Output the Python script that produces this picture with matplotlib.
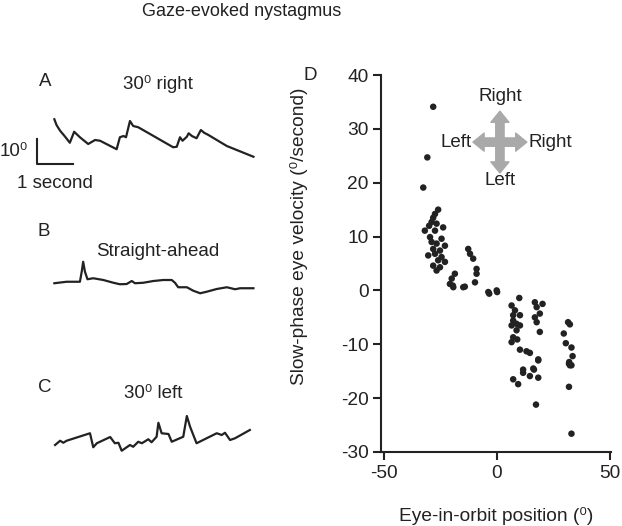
"""Gaze-evoked nystagmus: eye traces (A-C) and slow-phase velocity vs position (D)."""

import matplotlib
matplotlib.use("Agg")
import matplotlib.pyplot as plt
import numpy as np

plt.rcParams["font.family"] = ["Liberation Sans", "DejaVu Sans"]
plt.rcParams["axes.unicode_minus"] = False

W, H = 622, 526

# ── Traces (time in s from trace start, position in deg relative to start) ──

T_RIGHT = [0.01, 0.07, 0.17, 0.31, 0.44, 0.56, 0.72, 0.95, 1.14, 1.28, 1.74, 1.83,
           1.93, 2.00, 2.11, 2.20, 2.34, 3.31, 3.41, 3.50, 3.57, 3.69, 3.74, 3.83,
           3.96, 4.08, 4.17, 4.29, 4.80, 5.54]
P_RIGHT = [0, -2.3, -4.6, -7.0, -9.4, -5.0, -7.2, -9.9, -8.3, -8.6, -12.0, -7.2,
           -6.7, -7.2, -0.7, -2.7, -3.2, -11.2, -11.0, -7.2, -8.6, -7.0, -5.6, -6.7,
           -7.6, -4.3, -5.4, -6.3, -10.7, -15.0]

T_AHEAD = [0.01, 0.35, 0.72, 0.77, 0.81, 0.86, 0.93, 1.09, 1.37, 1.65, 1.83, 2.02,
           2.16, 2.25, 2.48, 2.76, 3.04, 3.27, 3.36, 3.45, 3.69, 3.87, 4.06, 4.24,
           4.52, 4.80, 5.03, 5.17, 5.54]
P_AHEAD = [0, 0.6, 0.6, 4.6, 8.6, 4.6, 1.6, 2.0, 1.3, 0.2, -0.4, -0.3,
           0.9, 0, 0.2, 0.9, 1.3, 1.3, 0.2, -1.6, -1.6, -3.0, -4.0, -3.4,
           -2.3, -1.6, -2.4, -2.0, -2.0]

T_LEFT = [0.03, 0.17, 0.26, 0.35, 1.00, 1.09, 1.19, 1.56, 1.69, 1.79, 1.88, 2.11,
          2.20, 2.34, 2.44, 2.62, 2.71, 2.85, 2.90, 2.99, 3.18, 3.27, 3.59, 3.69,
          3.78, 3.96, 4.52, 4.66, 4.75, 4.89, 5.03, 5.44]
P_LEFT = [0, 1.7, 0.9, 1.7, 4.7, -0.9, 0.7, 3.2, 0.7, 0.9, -2.3, 0,
          -0.7, 1.3, 0.7, 2.3, 1.1, 3.3, 8.9, 4.7, 4.4, 1.3, 3.3, 11.6,
          7.3, 0.7, 4.7, 4.0, 4.9, 2.0, 2.7, 6.0]

# ── Panel D: eye-in-orbit position (deg) vs slow-phase velocity (deg/s) ──

POS = [-28.2, -30.8, -32.6,
       -26.0, -27.4, -28.2, -28.9, -30.0, -26.7, -23.8, -31.9, -27.4, -29.6, -24.5,
       -28.9, -26.7, -23.0, -28.2, -25.2, -27.4, -30.4, -24.5, -26.0, -23.0, -28.2,
       -25.2, -26.7, -18.6, -20.0, -20.8, -19.3, -14.9, -12.7, -11.9, -10.5, -9.0,
       -9.0, -9.7, -3.8, -0.1, -19.5, -14.2, -3.4, 0.1,
       9.9, 6.5, 8.0, 7.2, 10.2, 7.2, 8.7, 6.5, 10.2, 8.7, 7.2, 6.5, 9.0, 10.2,
       13.1, 14.6, 18.3, 16.8, 17.6, 20.2, 19.0, 16.8, 17.6, 19.0,
       31.5, 32.3, 29.6, 30.5, 33.0, 33.5, 32.0, 32.3, 11.6, 16.1,
       11.6, 14.6, 16.4, 18.3, 18.3, 7.2, 9.4, 17.3, 31.9, 33.0, 31.9, 33.0]
VEL = [34.1, 24.7, 19.1,
       15.0, 14.2, 13.5, 12.7, 12.0, 12.4, 11.7, 11.1, 11.1, 9.9, 9.6,
       9.0, 8.7, 8.3, 7.7, 7.4, 6.8, 6.5, 6.2, 5.6, 5.3, 4.6,
       4.3, 3.7, 3.1, 2.2, 1.2, 0.6, 0.6, 7.7, 6.8, 5.9, 4.0,
       3.1, 1.5, -0.3, 0.0, 0.9, 0.7, -0.6, -0.3,
       -1.4, -2.8, -3.7, -4.6, -4.6, -5.6, -6.2, -6.5, -6.5, -7.4, -8.7, -9.6, -9.1, -11.0,
       -11.3, -11.6, -12.8, -2.2, -3.1, -2.5, -4.3, -5.0, -5.9, -7.7,
       -5.9, -6.3, -8.0, -9.8, -10.6, -12.2, -13.3, -13.9, -14.7, -14.5,
       -15.3, -15.9, -14.7, -16.2, -13.0, -16.5, -17.4, -21.2, -13.6, -13.9, -17.9, -26.6]

INK = "#222222"
ARROW_GREY = "#a9a9a9"
FS = 13.5      # panel text
FS_AX = 13.8   # axis ticks / labels


def px(x, y):
    """pixel position (from top-left) -> figure fraction"""
    return x / W, 1 - y / H


fig = plt.figure(figsize=(W / 100, H / 100), dpi=100)

fig.text(*px(242, 12), "Gaze-evoked nystagmus", ha="center", va="center",
         fontsize=13, color=INK)

# ── Left: traces, 36 px per second, 2.5 px per degree ──
tr = fig.add_axes([0, 46 / H, 290 / W, 440 / H])
tr.set_xlim(0, 290 / 36)
tr.set_ylim(0, 440 / 2.5)
tr.axis("off")

T0 = 1.5
for t, p, d0 in [(T_RIGHT, P_RIGHT, 144.3), (T_AHEAD, P_AHEAD, 78.7), (T_LEFT, P_LEFT, 14.0)]:
    tr.plot(T0 + np.array(t), d0 + np.array(p), color=INK, lw=1.6,
            solid_joinstyle="round")

# scale bar: 10 deg, 1 second
tr.plot([1.03, 1.03, 2.03], [136.4, 126.4, 126.4], color=INK, lw=1.5)

fig.text(*px(0, 151), "10\u2070", ha="left", va="center", fontsize=FS, color=INK)
fig.text(*px(17, 184), "1 second", ha="left", va="center", fontsize=FS, color=INK)

fig.text(*px(45, 82), "A", ha="center", va="center", fontsize=FS, color=INK)
fig.text(*px(158, 84), "30\u2070 right", ha="center", va="center", fontsize=FS, color=INK)
fig.text(*px(44, 232), "B", ha="center", va="center", fontsize=FS, color=INK)
fig.text(*px(158, 252), "Straight-ahead", ha="center", va="center", fontsize=FS, color=INK)
fig.text(*px(45, 388), "C", ha="center", va="center", fontsize=FS, color=INK)
fig.text(*px(153, 394), "30\u2070 left", ha="center", va="center", fontsize=FS, color=INK)

# ── Right: scatter ──
ax = fig.add_axes([381 / W, 74 / H, 230 / W, 377 / H])
ax.scatter(POS, VEL, s=22, color=INK, edgecolors="none", zorder=3)
ax.set_xlim(-51.3, 50.5)
ax.set_ylim(-30, 40)
ax.set_xticks([-50, 0, 50])
ax.set_yticks(range(-30, 41, 10))
for s in ("top", "right"):
    ax.spines[s].set_visible(False)
for s in ("left", "bottom"):
    ax.spines[s].set_linewidth(1.5)
    ax.spines[s].set_color(INK)
ax.tick_params(direction="out", length=6, width=1.5, colors=INK, labelsize=FS_AX, pad=3)
ax.set_xlabel("Eye-in-orbit position (\u2070)", fontsize=FS_AX, color=INK)
ax.set_ylabel("Slow-phase eye velocity (\u2070/second)", fontsize=FS_AX, color=INK)
ax.xaxis.set_label_coords(0.5, -0.145)
ax.yaxis.set_label_coords(-0.317, 0.573)

fig.text(*px(310, 75), "D", ha="center", va="center", fontsize=FS, color=INK)

# compass of directions
cx, cy = 0.517, 0.822
arms = [(0.117, 0), (-0.117, 0), (0, 0.082), (0, -0.082)]
for dx, dy in arms:
    ax.annotate("", xy=(cx + dx, cy + dy), xytext=(cx, cy),
                xycoords="axes fraction", textcoords="axes fraction",
                arrowprops=dict(arrowstyle="simple,head_length=0.8,head_width=1.3,tail_width=0.6",
                                color=ARROW_GREY, mutation_scale=10, shrinkA=0, shrinkB=0))
ax.text(cx, cy + 0.122, "Right", transform=ax.transAxes, ha="center", va="center",
        fontsize=FS, color=INK)
ax.text(cx, cy - 0.103, "Left", transform=ax.transAxes, ha="center", va="center",
        fontsize=FS, color=INK)
ax.text(cx - 0.125, cy, "Left", transform=ax.transAxes, ha="right", va="center",
        fontsize=FS, color=INK)
ax.text(cx + 0.125, cy, "Right", transform=ax.transAxes, ha="left", va="center",
        fontsize=FS, color=INK)

fig.savefig("out.png", dpi=100)
